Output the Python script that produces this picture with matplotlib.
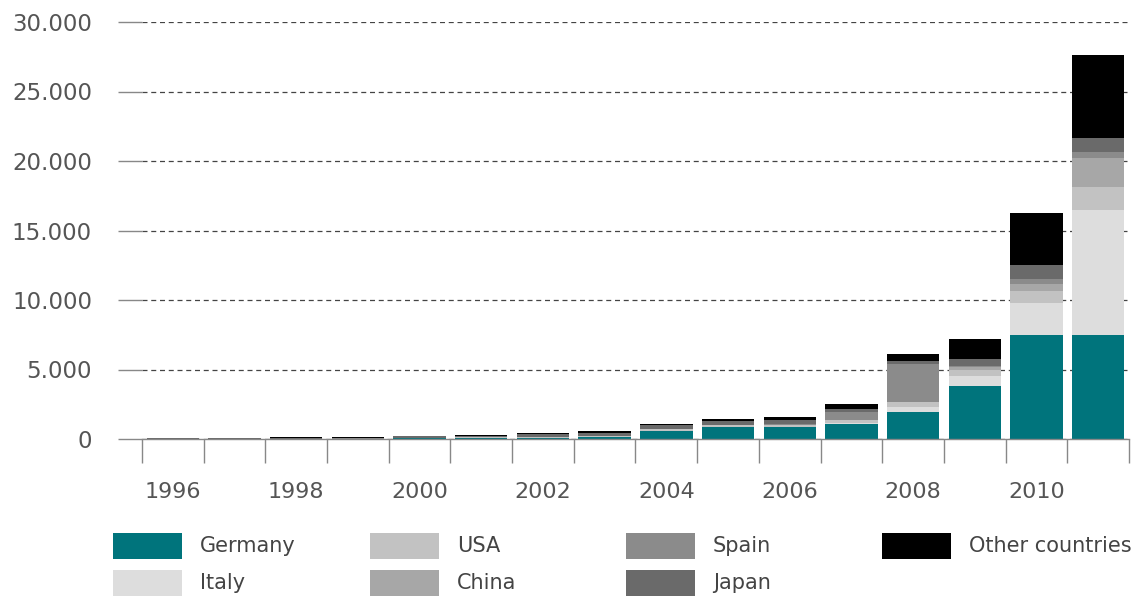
import numpy as np
import matplotlib
matplotlib.use("Agg")
import matplotlib.pyplot as plt
from matplotlib.patches import Rectangle

# Annual PV installations (MW) per country
years = list(range(1996, 2012))
germany = [10, 12, 10, 12, 40, 80, 80, 150, 600, 870, 830, 1100, 1950, 3800, 7450, 7500]
italy = [2, 2, 2, 3, 5, 5, 5, 5, 5, 5, 10, 70, 340, 720, 2300, 9000]
usa = [10, 12, 15, 17, 20, 30, 45, 60, 90, 110, 140, 210, 340, 470, 880, 1650]
china = [2, 2, 2, 3, 5, 5, 10, 10, 10, 10, 10, 20, 50, 160, 500, 2100]
spain = [1, 1, 1, 2, 2, 5, 5, 10, 10, 20, 100, 560, 2700, 100, 370, 400]
japan = [25, 40, 50, 70, 110, 120, 185, 220, 270, 290, 290, 210, 230, 480, 990, 1000]
other = [20, 25, 35, 50, 50, 40, 70, 110, 100, 130, 210, 330, 490, 1470, 3760, 5980]

series = [
    ("Germany", germany, "#00747c"),
    ("Italy", italy, "#dddddd"),
    ("USA", usa, "#c2c2c2"),
    ("China", china, "#a7a7a7"),
    ("Spain", spain, "#8b8b8b"),
    ("Japan", japan, "#6a6a6a"),
    ("Other countries", other, "#000000"),
]

W, H = 1143, 598
fig = plt.figure(figsize=(W / 100, H / 100), dpi=100)
ax = fig.add_axes([142 / W, 1 - 439 / H, (1129 - 142) / W, (439 - 22) / H])

x = np.arange(len(years))
bottom = np.zeros(len(years))
for name, vals, color in series:
    vals = np.array(vals, dtype=float)
    ax.bar(x, vals, width=0.85, bottom=bottom, color=color, linewidth=0, zorder=3)
    bottom += vals

ax.set_xlim(-0.5, len(years) - 0.5)
ax.set_ylim(0, 30000)

# y axis: dashed grid, long solid ticks
yt = np.arange(0, 30001, 5000)
ax.set_yticks(yt)
ax.set_yticklabels([f"{v:,}".replace(",", ".") for v in yt])
ax.yaxis.grid(True, color="#444444", linestyle=(0, (4, 3)), linewidth=0.9, zorder=0)
ax.tick_params(axis="y", length=17, width=1.0, color="#888888", pad=19,
               labelsize=16.5, labelcolor="#555555")

# x axis: ticks between bars, labels every other year
ax.set_xticks(np.arange(-0.5, len(years)), minor=True)
ax.set_xticks(x[::2])
ax.set_xticklabels([str(y) for y in years[::2]])
ax.tick_params(axis="x", which="major", length=0, pad=31,
               labelsize=16, labelcolor="#555555")
ax.tick_params(axis="x", which="minor", length=17, width=1.0, color="#888888")

for side in ("top", "right", "left"):
    ax.spines[side].set_visible(False)
ax.spines["bottom"].set_color("#888888")
ax.spines["bottom"].set_linewidth(1.0)
ax.spines["bottom"].set_zorder(4)

# legend: four columns, two rows
col_x = [113, 370, 626, 882]
row_y = [533, 570]
for i, (name, vals, color) in enumerate(series):
    cx = col_x[i // 2]
    cy = row_y[i % 2]
    fig.add_artist(Rectangle((cx / W, 1 - (cy + 26) / H), 69 / W, 26 / H,
                             transform=fig.transFigure, facecolor=color,
                             edgecolor="none"))
    fig.text((cx + 87) / W, 1 - (cy + 13) / H, name, fontsize=15,
             color="#444444", va="center", ha="left")

fig.savefig("out.png", dpi=100)
